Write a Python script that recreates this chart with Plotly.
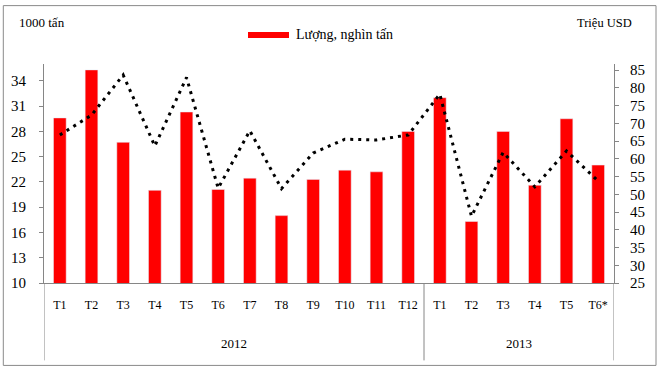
import plotly.graph_objects as go

months = ["T1","T2","T3","T4","T5","T6","T7","T8","T9","T10","T11","T12",
          "T1","T2","T3","T4","T5","T6*"]
years = ["2012", "2013"]
year_counts = [12, 6]
volume = [29.6, 35.3, 26.7, 21.0, 30.3, 21.1, 22.45, 18.0, 22.3, 23.4, 23.2, 28.0,
          32.0, 17.3, 28.0, 21.6, 29.5, 24.0]
value_usd = [66.7, 72.3, 83.6, 63.6, 82.9, 51.7, 67.9, 51.6, 61.6, 65.5, 65.3, 66.7,
             78.2, 43.8, 61.8, 52.1, 62.2, 53.7]
left_ticks = [10, 13, 16, 19, 22, 25, 28, 31, 34]
right_ticks = [25, 30, 35, 40, 45, 50, 55, 60, 65, 70, 75, 80, 85]

W, H = 661, 372
L, R, T, B = 44, 614, 64, 282.7
pw, ph = R - L, B - T

def px(x):
    return (x - L) / pw

def py(y):
    return (B - y) / ph

xs = list(range(len(months)))
FONT = "Liberation Serif"
AXC = "#868686"

fig = go.Figure()
fig.add_trace(go.Bar(x=xs, y=volume, marker_color="#FF0000", width=0.4,
                     name="Lượng, nghìn tấn", showlegend=False))
fig.add_trace(go.Scatter(x=xs, y=value_usd, yaxis="y2", mode="lines",
                         line=dict(color="black", width=3, dash="3px,5px"),
                         showlegend=False))

shapes = []
annotations = []
bounds = [-0.5]
for c in year_counts:
    bounds.append(bounds[-1] + c)
for b in bounds:
    shapes.append(dict(type="line", xref="x", yref="paper", x0=b, x1=b,
                       y0=0, y1=py(360), line=dict(color=AXC, width=1)))
for i, yr in enumerate(years):
    annotations.append(dict(x=(bounds[i] + bounds[i + 1]) / 2, y=py(343), xref="x", yref="paper",
                            text=yr, showarrow=False, font=dict(family=FONT, size=13, color="black"),
                            yanchor="middle"))
shapes.append(dict(type="rect", xref="paper", yref="paper", x0=px(3.3), x1=px(656),
                   y0=py(365), y1=py(5.7), line=dict(color="#8a8a8a", width=1)))
shapes.append(dict(type="rect", xref="paper", yref="paper", x0=px(248), x1=px(289),
                   y0=py(38), y1=py(32), fillcolor="#FF0000", line=dict(width=0)))
annotations.append(dict(x=px(294), y=py(35), xref="paper", yref="paper", text="Lượng, nghìn tấn",
                        showarrow=False, xanchor="left", yanchor="middle",
                        font=dict(family=FONT, size=14, color="black")))
annotations.append(dict(x=px(17), y=py(23), xref="paper", yref="paper", text="1000 tấn",
                        showarrow=False, xanchor="left", yanchor="middle",
                        font=dict(family=FONT, size=13, color="black")))
annotations.append(dict(x=px(634), y=py(23), xref="paper", yref="paper", text="Triệu USD",
                        showarrow=False, xanchor="right", yanchor="middle",
                        font=dict(family=FONT, size=12.5, color="black")))

fig.update_layout(
    width=W, height=H,
    margin=dict(l=L, r=W - R, t=T, b=H - B, pad=0),
    paper_bgcolor="white", plot_bgcolor="white",
    font=dict(family=FONT, color="black"),
    xaxis=dict(tickmode="array", tickvals=xs, ticktext=months, range=[-0.5, len(months) - 0.5],
               showline=True, linecolor=AXC, linewidth=1, ticks="", showgrid=False,
               zeroline=False, tickfont=dict(family=FONT, size=12), ticklabelstandoff=11),
    yaxis=dict(range=[10, 36], tickvals=left_ticks, showline=True, linecolor=AXC, linewidth=1,
               ticks="outside", ticklen=4, tickcolor=AXC, showgrid=False, zeroline=False,
               tickfont=dict(family=FONT, size=15), ticklabelstandoff=10),
    yaxis2=dict(range=[25, 86.7], tickvals=right_ticks, overlaying="y", side="right",
                showline=True, linecolor=AXC, linewidth=1, ticks="outside", ticklen=4,
                tickcolor=AXC, showgrid=False, zeroline=False,
                tickfont=dict(family=FONT, size=15), ticklabelstandoff=8),
    shapes=shapes, annotations=annotations, showlegend=False,
)
fig.write_html("out.html", config={"displayModeBar": False},
               post_script="document.body.style.margin='0px';")
